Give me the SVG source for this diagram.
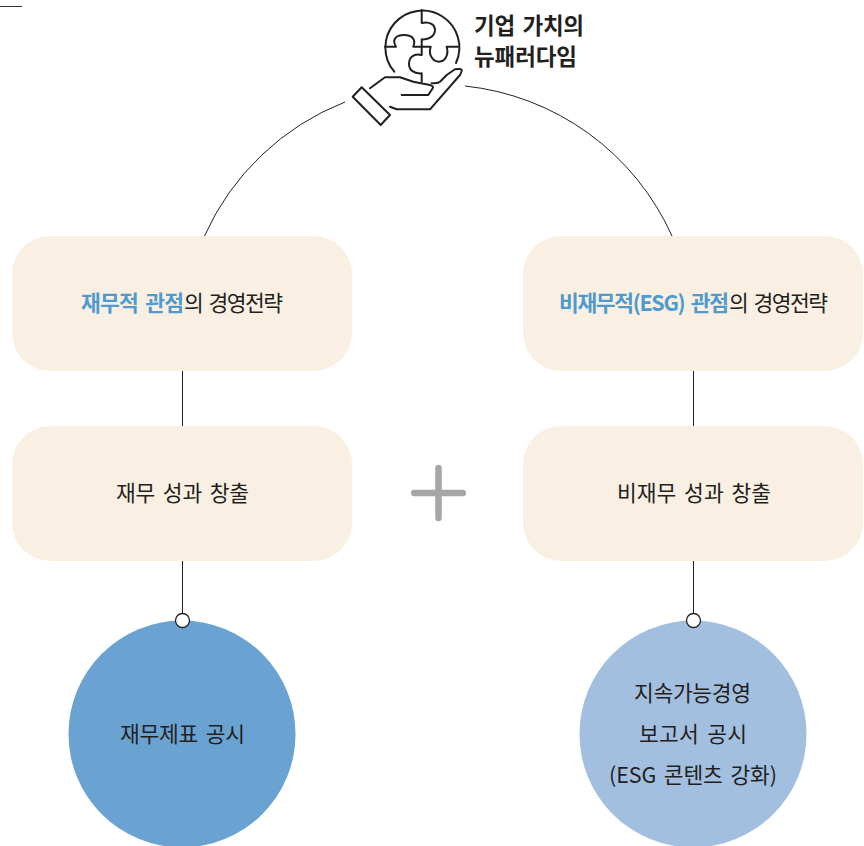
<svg xmlns="http://www.w3.org/2000/svg" width="864" height="846" viewBox="0 0 864 846">
<style>
text{font-family:"Noto Sans CJK KR","Liberation Sans",sans-serif;font-size:21.500px;fill:#231f20;text-anchor:start;word-spacing:3px}
.b{fill:#4f9bcf;font-weight:700}
.t{font-weight:700;font-size:22.500px}
.box{fill:#f9f0e3}
.ln{fill:none;stroke:#231f20;stroke-width:1}
.ic{fill:none;stroke:#231f20;stroke-width:2;stroke-linejoin:round;stroke-linecap:round}
.dot{fill:#fff;stroke:#231f20;stroke-width:1.3}
</style>
<g id="corner-mark"><path d="M0 6.500H22" stroke="#333" stroke-width="1"/></g>
<g id="connectors">
<path class="ln" d="M204.500 236A256.500 256.500 0 0 1 345 102"/>
<path class="ln" d="M465 86A256.500 256.500 0 0 1 672 236"/>
<path class="ln" d="M182.500 371V426M182.500 561V621M693.500 371V426M693.500 561V621"/>
</g>
<g id="icon">
<path class="ic" d="M394.300 71.700A37 37 0 1 1 456 63"/>
<path class="ic" d="M421.700 10V23C430 21 435 25 435 30C435 36 429 40 421.700 39.300V55C413 53 409 58 409 64C409 70 414 74 421.700 73.300V81.700"/>
<path class="ic" d="M385 46.700H396C392 40 395 35 404 35C413 35 416 40 413.300 46.700H430.700C428 55 433 61.700 439 61.700C445 61.700 449 55 446.700 46.700H458"/>
<path class="ic" d="M370 88.300L385 77.300H400L413.300 81.700L430 85C433 86 433.500 87 432.700 88.300L428.300 95H401.700"/>
<path class="ic" d="M431.700 83.300C436 83 438 83.500 440 81.700L446.700 75L455 69.300C459 68.500 462 69 461.700 70.700C461 73 460.500 74.500 460 75L430 109.300H396.700L390 106.700"/>
<path class="ic" d="M361.700 87.300L352.700 96.700L380.700 125L390 115Z"/>
</g>
<g id="title"><text class="t" x="474" y="34" textLength="110">기업 가치의</text><text class="t" x="474" y="65" textLength="103">뉴패러다임</text></g>
<g id="plus"><path d="M414.250 493H462.750M438.500 468V518" stroke="#a7a5a5" stroke-width="6.500" stroke-linecap="round" fill="none"/></g>
<g id="left-strategy"><rect class="box" x="12" y="236" width="340" height="135" rx="38"/><text y="311"><tspan class="b" x="81" textLength="103">재무적 관점</tspan><tspan x="184" textLength="99">의 경영전략</tspan></text></g>
<g id="right-strategy"><rect class="box" x="523" y="236" width="340" height="135" rx="38"/><text y="311"><tspan class="b" x="559" textLength="170">비재무적(ESG) 관점</tspan><tspan x="729" textLength="99">의 경영전략</tspan></text></g>
<g id="left-result"><rect class="box" x="12" y="426" width="340" height="135" rx="38"/><text x="116" y="501" textLength="133">재무 성과 창출</text></g>
<g id="right-result"><rect class="box" x="523" y="426" width="340" height="135" rx="38"/><text x="617" y="501" textLength="154">비재무 성과 창출</text></g>
<g id="left-disclosure"><circle cx="182" cy="734" r="113.500" fill="#6aa3d2"/><text x="120" y="742" textLength="125">재무제표 공시</text><circle class="dot" cx="182.500" cy="620.500" r="7"/></g>
<g id="right-disclosure"><circle cx="693" cy="734" r="113.500" fill="#a3bfe0"/><text x="634" y="701" textLength="117">지속가능경영</text><text x="639" y="742" textLength="108">보고서 공시</text><text x="609" y="783" textLength="168">(ESG 콘텐츠 강화)</text><circle class="dot" cx="693.500" cy="620.500" r="7"/></g>
</svg>
